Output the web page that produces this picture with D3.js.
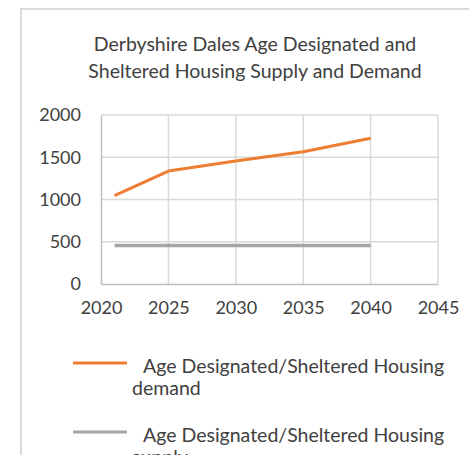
<!DOCTYPE html>
<html>
<head>
<meta charset="utf-8">
<script src="https://cdn.jsdelivr.net/npm/d3@7"></script>
<style>
  body { margin: 0; background: #fff; }
  text { font-family: Lato, "Open Sans", sans-serif; fill: #404040; }
</style>
</head>
<body>
<div id="svg-area"></div>
<script>
// chart data
var years = [2021, 2025, 2030, 2035, 2040];
var demand = [1045, 1337, 1455, 1566, 1724];
var supply = [455, 455, 455, 455, 455];
var xTicks = [2020, 2025, 2030, 2035, 2040, 2045];
var yTicks = [0, 500, 1000, 1500, 2000];
var titleLines = ["Derbyshire Dales Age Designated and", "Sheltered Housing Supply and Demand"];
var seriesNames = [["Age Designated/Sheltered Housing", "demand"], ["Age Designated/Sheltered Housing", "supply"]];
var seriesColors = ["#ed7d31", "#a5a5a5"];

var svgWidth = 469;
var svgHeight = 455;

var plot = { left: 101, right: 438, top: 115, bottom: 284 };

var svg = d3.select("#svg-area")
  .append("svg")
  .attr("width", svgWidth)
  .attr("height", svgHeight);

// chart frame (runs off the right and bottom edges)
svg.append("rect")
  .attr("x", 21)
  .attr("y", 9)
  .attr("width", 460)
  .attr("height", 460)
  .attr("fill", "none")
  .attr("stroke", "#d9d9d9")
  .attr("stroke-width", 2);

// title
svg.append("text")
  .attr("text-anchor", "middle")
  .attr("font-size", "19.5px")
  .selectAll("tspan")
  .data(titleLines)
  .enter()
  .append("tspan")
  .attr("x", 255)
  .attr("y", (d, i) => 51 + i * 27)
  .text(d => d);

var x = d3.scaleLinear()
  .domain([2020, 2045])
  .range([plot.left, plot.right]);

var y = d3.scaleLinear()
  .domain([0, 2000])
  .range([plot.bottom, plot.top]);

// gridlines
svg.append("g")
  .selectAll("line")
  .data(yTicks.slice(1))
  .enter()
  .append("line")
  .attr("x1", plot.left)
  .attr("x2", plot.right)
  .attr("y1", d => y(d))
  .attr("y2", d => y(d))
  .attr("stroke", "#d9d9d9")
  .attr("stroke-width", 1.5);

svg.append("g")
  .selectAll("line")
  .data(xTicks.slice(1))
  .enter()
  .append("line")
  .attr("x1", d => x(d))
  .attr("x2", d => x(d))
  .attr("y1", plot.top)
  .attr("y2", plot.bottom)
  .attr("stroke", "#d9d9d9")
  .attr("stroke-width", 1.5);

// axes
var bottomAxis = d3.axisBottom(x).tickValues(xTicks).tickFormat(d3.format("d")).tickSize(0).tickPadding(17);
var leftAxis = d3.axisLeft(y).tickValues(yTicks).tickFormat(d3.format("d")).tickSize(0).tickPadding(20);

var gx = svg.append("g")
  .attr("transform", `translate(0, ${plot.bottom})`)
  .call(bottomAxis);
var gy = svg.append("g")
  .attr("transform", `translate(${plot.left}, 0)`)
  .call(leftAxis);

[gx, gy].forEach(function(g) {
  g.select(".domain").attr("stroke", "#bfbfbf").attr("stroke-width", 1.5);
  g.selectAll("text")
    .attr("font-family", "Lato, sans-serif")
    .attr("font-size", "18px")
    .attr("fill", "#404040");
});

// series lines
var line = d3.line()
  .x(d => x(d[0]))
  .y(d => y(d[1]));

[demand, supply].forEach(function(vals, i) {
  svg.append("path")
    .datum(years.map((yr, j) => [yr, vals[j]]))
    .attr("d", line)
    .attr("fill", "none")
    .attr("stroke", seriesColors[i])
    .attr("stroke-width", i === 0 ? 3 : 3.5)
    .attr("stroke-linejoin", "round");
});

// legend
var legend = svg.append("g");
seriesNames.forEach(function(name, i) {
  var top = 363 + i * 69;
  legend.append("line")
    .attr("x1", 73)
    .attr("x2", 127)
    .attr("y1", top)
    .attr("y2", top)
    .attr("stroke", seriesColors[i])
    .attr("stroke-width", 3);
  legend.append("text")
    .attr("x", 143)
    .attr("y", top + 10)
    .attr("font-size", "19.5px")
    .text(name[0]);
  legend.append("text")
    .attr("x", 132)
    .attr("y", top + 32)
    .attr("font-size", "19.5px")
    .text(name[1]);
});
</script>
</body>
</html>
